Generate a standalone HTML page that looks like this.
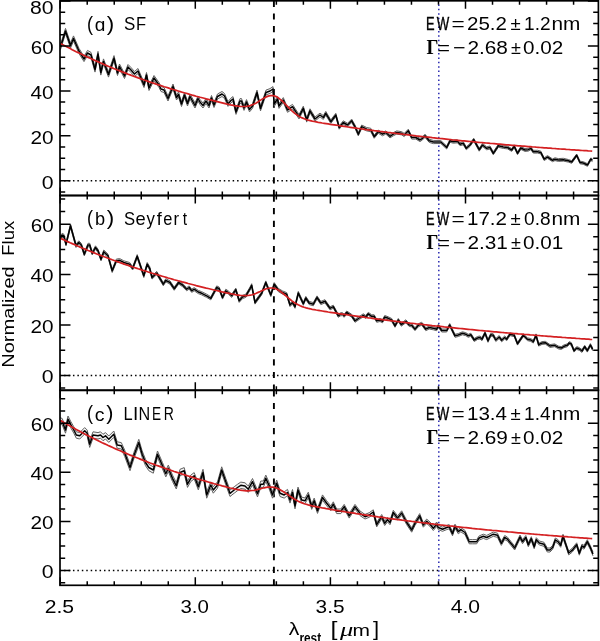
<!DOCTYPE html><html><head><meta charset="utf-8"><style>html,body{margin:0;padding:0;background:#fff;overflow:hidden}svg{display:block}text{font-family:"Liberation Sans",sans-serif;fill:#000}</style></head><body>
<svg width="600" height="641" viewBox="0 0 600 641">
<rect width="600" height="641" fill="#fff"/>
<clipPath id="c0"><rect x="60.0" y="0.8" width="538.4" height="194.7"/></clipPath>
<g clip-path="url(#c0)">
<line x1="60.0" y1="180.7" x2="598.4" y2="180.7" stroke="#000" stroke-width="1.5" stroke-dasharray="1.5 2.936" stroke-dashoffset="0.36"/>
<line x1="273.9" y1="0.8" x2="273.9" y2="195.5" stroke="#000" stroke-width="1.9" stroke-dasharray="6.2 6.4"/>
<line x1="438.8" y1="0.8" x2="438.8" y2="195.5" stroke="#2828b0" stroke-width="1.5" stroke-dasharray="1.5 2.91" stroke-dashoffset="0.75"/>
<path d="M60.5,44.4 L65.5,28.4 L70.5,42.9 L73.5,35.9 L79.0,48.4 L84.0,56.4 L87.5,50.4 L91.0,52.4 L95.0,66.9 L98.0,51.4 L100.8,69.9 L103.5,58.9 L108.5,71.9 L114.0,55.6 L117.5,70.5 L119.5,64.0 L124.5,73.5 L128.0,64.5 L131.0,67.5 L134.5,71.5 L138.0,68.5 L144.0,82.5 L146.5,72.5 L149.0,85.5 L154.0,75.5 L159.0,82.5 L161.0,86.5 L164.0,87.5 L168.0,96.0 L173.0,84.0 L176.5,95.0 L178.5,92.0 L181.5,101.5 L184.5,92.5 L187.5,101.0 L190.0,94.0 L195.0,103.0 L198.0,96.0 L200.0,99.5 L203.0,103.0 L206.0,98.5 L209.0,103.0 L211.5,95.5 L214.0,102.5 L217.5,94.0 L222.0,91.5 L224.5,93.5 L228.0,101.6 L231.0,98.1 L233.0,96.6 L236.0,109.6 L240.0,98.6 L241.5,98.6 L244.0,105.6 L246.5,99.6 L249.5,107.1 L252.5,103.6 L257.0,90.1 L260.5,106.1 L266.0,90.1 L270.0,88.6 L273.0,86.6 L274.2,101.6 L277.5,96.6 L279.0,103.6 L283.3,97.6 L287.5,107.7 L292.5,104.4 L299.0,114.5 L303.3,106.2 L306.7,117.9 L310.0,108.8 L315.0,117.0 L320.0,113.1 L323.3,115.6 L325.8,111.4 L330.8,119.9 L335.8,113.3 L339.2,125.8 L343.3,120.8 L347.5,123.3 L351.7,119.1 L355.0,125.0 L358.3,132.5 L361.7,125.0 L366.7,127.5 L370.8,128.3 L374.2,135.1 L378.3,130.1 L382.5,132.6 L385.8,130.9 L390.0,134.7 L393.3,132.6 L396.7,130.9 L401.7,131.7 L404.2,133.4 L408.3,129.2 L411.7,135.9 L415.8,135.9 L420.0,138.4 L422.5,136.7 L425.0,134.2 L429.2,139.2 L433.3,140.4 L440.8,140.5 L446.7,146.0 L450.0,139.3 L453.3,140.2 L457.5,139.8 L460.0,142.7 L463.3,141.8 L466.3,146.8 L470.0,143.5 L473.7,138.2 L479.2,148.2 L482.5,143.5 L486.7,146.8 L490.0,146.0 L493.3,151.8 L498.3,144.3 L503.3,145.6 L507.5,146.1 L511.7,148.6 L514.2,144.9 L517.5,151.9 L520.8,146.6 L525.0,148.6 L528.3,148.3 L530.8,146.9 L533.3,150.3 L537.5,150.3 L540.8,151.1 L544.2,157.8 L547.5,155.6 L552.5,158.9 L555.0,157.8 L558.3,158.6 L563.3,158.3 L568.3,159.5 L571.7,160.7 L576.7,154.0 L580.0,161.2 L583.3,161.7 L587.5,163.7 L590.8,157.9 L592.5,159.0 L592.5,161.6 L590.8,160.5 L587.5,166.3 L583.3,164.3 L580.0,163.8 L576.7,156.6 L571.7,163.3 L568.3,162.1 L563.3,161.1 L558.3,161.4 L555.0,160.6 L552.5,161.7 L547.5,158.4 L544.2,160.6 L540.8,153.9 L537.5,153.1 L533.3,153.1 L530.8,149.7 L528.3,151.1 L525.0,151.4 L520.8,149.4 L517.5,154.7 L514.2,147.7 L511.7,151.4 L507.5,148.9 L503.3,148.4 L498.3,147.3 L493.3,154.8 L490.0,149.0 L486.7,149.8 L482.5,146.5 L479.2,151.2 L473.7,141.2 L470.0,146.5 L466.3,149.8 L463.3,144.8 L460.0,145.7 L457.5,142.8 L453.3,143.2 L450.0,142.3 L446.7,149.0 L440.8,143.5 L433.3,143.6 L429.2,142.4 L425.0,137.4 L422.5,139.9 L420.0,141.6 L415.8,139.1 L411.7,139.1 L408.3,132.4 L404.2,136.6 L401.7,134.9 L396.7,134.1 L393.3,135.8 L390.0,137.9 L385.8,134.1 L382.5,135.8 L378.3,133.3 L374.2,138.3 L370.8,131.7 L366.7,130.9 L361.7,128.4 L358.3,135.9 L355.0,128.4 L351.7,122.5 L347.5,126.7 L343.3,124.2 L339.2,129.2 L335.8,116.7 L330.8,123.5 L325.8,115.2 L323.3,119.4 L320.0,116.9 L315.0,121.0 L310.0,112.8 L306.7,122.1 L303.3,110.4 L299.0,118.9 L292.5,109.0 L287.5,112.3 L283.3,102.4 L279.0,108.4 L277.5,101.4 L274.2,106.4 L273.0,91.4 L270.0,93.4 L266.0,94.9 L260.5,110.9 L257.0,94.9 L252.5,108.4 L249.5,111.9 L246.5,104.4 L244.0,110.4 L241.5,103.4 L240.0,103.4 L236.0,114.4 L233.0,101.4 L231.0,102.9 L228.0,106.4 L224.5,98.5 L222.0,96.5 L217.5,99.0 L214.0,107.5 L211.5,100.5 L209.0,108.0 L206.0,103.5 L203.0,108.0 L200.0,104.5 L198.0,101.0 L195.0,108.0 L190.0,99.0 L187.5,106.0 L184.5,97.5 L181.5,106.5 L178.5,97.0 L176.5,100.0 L173.0,89.0 L168.0,101.0 L164.0,92.5 L161.0,91.5 L159.0,87.5 L154.0,80.5 L149.0,90.5 L146.5,77.5 L144.0,87.5 L138.0,73.5 L134.5,76.5 L131.0,72.5 L128.0,69.5 L124.5,78.5 L119.5,69.0 L117.5,75.5 L114.0,60.8 L108.5,77.1 L103.5,64.1 L100.8,75.1 L98.0,56.6 L95.0,72.1 L91.0,57.6 L87.5,55.6 L84.0,61.6 L79.0,53.6 L73.5,41.1 L70.5,48.1 L65.5,33.6 L60.5,49.6Z" fill="#f2f2f2"/>
<path d="M60.5,44.4 L65.5,28.4 L70.5,42.9 L73.5,35.9 L79.0,48.4 L84.0,56.4 L87.5,50.4 L91.0,52.4 L95.0,66.9 L98.0,51.4 L100.8,69.9 L103.5,58.9 L108.5,71.9 L114.0,55.6 L117.5,70.5 L119.5,64.0 L124.5,73.5 L128.0,64.5 L131.0,67.5 L134.5,71.5 L138.0,68.5 L144.0,82.5 L146.5,72.5 L149.0,85.5 L154.0,75.5 L159.0,82.5 L161.0,86.5 L164.0,87.5 L168.0,96.0 L173.0,84.0 L176.5,95.0 L178.5,92.0 L181.5,101.5 L184.5,92.5 L187.5,101.0 L190.0,94.0 L195.0,103.0 L198.0,96.0 L200.0,99.5 L203.0,103.0 L206.0,98.5 L209.0,103.0 L211.5,95.5 L214.0,102.5 L217.5,94.0 L222.0,91.5 L224.5,93.5 L228.0,101.6 L231.0,98.1 L233.0,96.6 L236.0,109.6 L240.0,98.6 L241.5,98.6 L244.0,105.6 L246.5,99.6 L249.5,107.1 L252.5,103.6 L257.0,90.1 L260.5,106.1 L266.0,90.1 L270.0,88.6 L273.0,86.6 L274.2,101.6 L277.5,96.6 L279.0,103.6 L283.3,97.6 L287.5,107.7 L292.5,104.4 L299.0,114.5 L303.3,106.2 L306.7,117.9 L310.0,108.8 L315.0,117.0 L320.0,113.1 L323.3,115.6 L325.8,111.4 L330.8,119.9 L335.8,113.3 L339.2,125.8 L343.3,120.8 L347.5,123.3 L351.7,119.1 L355.0,125.0 L358.3,132.5 L361.7,125.0 L366.7,127.5 L370.8,128.3 L374.2,135.1 L378.3,130.1 L382.5,132.6 L385.8,130.9 L390.0,134.7 L393.3,132.6 L396.7,130.9 L401.7,131.7 L404.2,133.4 L408.3,129.2 L411.7,135.9 L415.8,135.9 L420.0,138.4 L422.5,136.7 L425.0,134.2 L429.2,139.2 L433.3,140.4 L440.8,140.5 L446.7,146.0 L450.0,139.3 L453.3,140.2 L457.5,139.8 L460.0,142.7 L463.3,141.8 L466.3,146.8 L470.0,143.5 L473.7,138.2 L479.2,148.2 L482.5,143.5 L486.7,146.8 L490.0,146.0 L493.3,151.8 L498.3,144.3 L503.3,145.6 L507.5,146.1 L511.7,148.6 L514.2,144.9 L517.5,151.9 L520.8,146.6 L525.0,148.6 L528.3,148.3 L530.8,146.9 L533.3,150.3 L537.5,150.3 L540.8,151.1 L544.2,157.8 L547.5,155.6 L552.5,158.9 L555.0,157.8 L558.3,158.6 L563.3,158.3 L568.3,159.5 L571.7,160.7 L576.7,154.0 L580.0,161.2 L583.3,161.7 L587.5,163.7 L590.8,157.9 L592.5,159.0" fill="none" stroke="#606060" stroke-width="1.0" stroke-linejoin="round"/>
<path d="M60.5,49.6 L65.5,33.6 L70.5,48.1 L73.5,41.1 L79.0,53.6 L84.0,61.6 L87.5,55.6 L91.0,57.6 L95.0,72.1 L98.0,56.6 L100.8,75.1 L103.5,64.1 L108.5,77.1 L114.0,60.8 L117.5,75.5 L119.5,69.0 L124.5,78.5 L128.0,69.5 L131.0,72.5 L134.5,76.5 L138.0,73.5 L144.0,87.5 L146.5,77.5 L149.0,90.5 L154.0,80.5 L159.0,87.5 L161.0,91.5 L164.0,92.5 L168.0,101.0 L173.0,89.0 L176.5,100.0 L178.5,97.0 L181.5,106.5 L184.5,97.5 L187.5,106.0 L190.0,99.0 L195.0,108.0 L198.0,101.0 L200.0,104.5 L203.0,108.0 L206.0,103.5 L209.0,108.0 L211.5,100.5 L214.0,107.5 L217.5,99.0 L222.0,96.5 L224.5,98.5 L228.0,106.4 L231.0,102.9 L233.0,101.4 L236.0,114.4 L240.0,103.4 L241.5,103.4 L244.0,110.4 L246.5,104.4 L249.5,111.9 L252.5,108.4 L257.0,94.9 L260.5,110.9 L266.0,94.9 L270.0,93.4 L273.0,91.4 L274.2,106.4 L277.5,101.4 L279.0,108.4 L283.3,102.4 L287.5,112.3 L292.5,109.0 L299.0,118.9 L303.3,110.4 L306.7,122.1 L310.0,112.8 L315.0,121.0 L320.0,116.9 L323.3,119.4 L325.8,115.2 L330.8,123.5 L335.8,116.7 L339.2,129.2 L343.3,124.2 L347.5,126.7 L351.7,122.5 L355.0,128.4 L358.3,135.9 L361.7,128.4 L366.7,130.9 L370.8,131.7 L374.2,138.3 L378.3,133.3 L382.5,135.8 L385.8,134.1 L390.0,137.9 L393.3,135.8 L396.7,134.1 L401.7,134.9 L404.2,136.6 L408.3,132.4 L411.7,139.1 L415.8,139.1 L420.0,141.6 L422.5,139.9 L425.0,137.4 L429.2,142.4 L433.3,143.6 L440.8,143.5 L446.7,149.0 L450.0,142.3 L453.3,143.2 L457.5,142.8 L460.0,145.7 L463.3,144.8 L466.3,149.8 L470.0,146.5 L473.7,141.2 L479.2,151.2 L482.5,146.5 L486.7,149.8 L490.0,149.0 L493.3,154.8 L498.3,147.3 L503.3,148.4 L507.5,148.9 L511.7,151.4 L514.2,147.7 L517.5,154.7 L520.8,149.4 L525.0,151.4 L528.3,151.1 L530.8,149.7 L533.3,153.1 L537.5,153.1 L540.8,153.9 L544.2,160.6 L547.5,158.4 L552.5,161.7 L555.0,160.6 L558.3,161.4 L563.3,161.1 L568.3,162.1 L571.7,163.3 L576.7,156.6 L580.0,163.8 L583.3,164.3 L587.5,166.3 L590.8,160.5 L592.5,161.6" fill="none" stroke="#606060" stroke-width="1.0" stroke-linejoin="round"/>
<path d="M60.5,47.0 L65.5,31.0 L70.5,45.5 L73.5,38.5 L79.0,51.0 L84.0,59.0 L87.5,53.0 L91.0,55.0 L95.0,69.5 L98.0,54.0 L100.8,72.5 L103.5,61.5 L108.5,74.5 L114.0,58.2 L117.5,73.0 L119.5,66.5 L124.5,76.0 L128.0,67.0 L131.0,70.0 L134.5,74.0 L138.0,71.0 L144.0,85.0 L146.5,75.0 L149.0,88.0 L154.0,78.0 L159.0,85.0 L161.0,89.0 L164.0,90.0 L168.0,98.5 L173.0,86.5 L176.5,97.5 L178.5,94.5 L181.5,104.0 L184.5,95.0 L187.5,103.5 L190.0,96.5 L195.0,105.5 L198.0,98.5 L200.0,102.0 L203.0,105.5 L206.0,101.0 L209.0,105.5 L211.5,98.0 L214.0,105.0 L217.5,96.5 L222.0,94.0 L224.5,96.0 L228.0,104.0 L231.0,100.5 L233.0,99.0 L236.0,112.0 L240.0,101.0 L241.5,101.0 L244.0,108.0 L246.5,102.0 L249.5,109.5 L252.5,106.0 L257.0,92.5 L260.5,108.5 L266.0,92.5 L270.0,91.0 L273.0,89.0 L274.2,104.0 L277.5,99.0 L279.0,106.0 L283.3,100.0 L287.5,110.0 L292.5,106.7 L299.0,116.7 L303.3,108.3 L306.7,120.0 L310.0,110.8 L315.0,119.0 L320.0,115.0 L323.3,117.5 L325.8,113.3 L330.8,121.7 L335.8,115.0 L339.2,127.5 L343.3,122.5 L347.5,125.0 L351.7,120.8 L355.0,126.7 L358.3,134.2 L361.7,126.7 L366.7,129.2 L370.8,130.0 L374.2,136.7 L378.3,131.7 L382.5,134.2 L385.8,132.5 L390.0,136.3 L393.3,134.2 L396.7,132.5 L401.7,133.3 L404.2,135.0 L408.3,130.8 L411.7,137.5 L415.8,137.5 L420.0,140.0 L422.5,138.3 L425.0,135.8 L429.2,140.8 L433.3,142.0 L440.8,142.0 L446.7,147.5 L450.0,140.8 L453.3,141.7 L457.5,141.3 L460.0,144.2 L463.3,143.3 L466.3,148.3 L470.0,145.0 L473.7,139.7 L479.2,149.7 L482.5,145.0 L486.7,148.3 L490.0,147.5 L493.3,153.3 L498.3,145.8 L503.3,147.0 L507.5,147.5 L511.7,150.0 L514.2,146.3 L517.5,153.3 L520.8,148.0 L525.0,150.0 L528.3,149.7 L530.8,148.3 L533.3,151.7 L537.5,151.7 L540.8,152.5 L544.2,159.2 L547.5,157.0 L552.5,160.3 L555.0,159.2 L558.3,160.0 L563.3,159.7 L568.3,160.8 L571.7,162.0 L576.7,155.3 L580.0,162.5 L583.3,163.0 L587.5,165.0 L590.8,159.2 L592.5,160.3" fill="none" stroke="#000" stroke-width="1.5" stroke-linejoin="round"/>
<path d="M60.2,43.4 L62.2,44.5 L64.2,45.5 L66.2,46.6 L68.2,47.6 L70.2,48.6 L72.2,49.7 L74.2,50.7 L76.2,51.7 L78.2,52.6 L80.2,53.6 L82.2,54.6 L84.2,55.5 L86.2,56.5 L88.2,57.4 L90.2,58.3 L92.2,59.2 L94.2,60.1 L96.2,61.0 L98.2,61.9 L100.2,62.8 L102.2,63.6 L104.2,64.5 L106.2,65.4 L108.2,66.2 L110.2,67.0 L112.2,67.9 L114.2,68.7 L116.2,69.5 L118.2,70.3 L120.2,71.1 L122.2,71.9 L124.2,72.6 L126.2,73.4 L128.2,74.2 L130.2,74.9 L132.2,75.7 L134.2,76.4 L136.2,77.1 L138.2,77.9 L140.2,78.6 L142.2,79.3 L144.2,80.0 L146.2,80.7 L148.2,81.4 L150.2,82.1 L152.2,82.7 L154.2,83.4 L156.2,84.1 L158.2,84.7 L160.2,85.4 L162.2,86.0 L164.2,86.7 L166.2,87.3 L168.2,87.9 L170.2,88.6 L172.2,89.2 L174.2,89.8 L176.2,90.4 L178.2,91.0 L180.2,91.6 L182.2,92.2 L184.2,92.8 L186.2,93.3 L188.2,93.9 L190.2,94.5 L192.2,95.1 L194.2,95.6 L196.2,96.2 L198.2,96.7 L200.2,97.3 L202.2,97.8 L204.2,98.3 L206.2,98.9 L208.2,99.4 L210.2,99.9 L212.2,100.4 L214.2,100.9 L216.2,101.4 L218.2,101.9 L220.2,102.4 L222.2,102.9 L224.2,103.4 L226.2,103.9 L228.2,104.3 L230.2,104.8 L232.2,105.2 L234.2,105.6 L236.2,105.9 L238.2,106.2 L240.2,106.4 L242.2,106.5 L244.2,106.5 L246.2,106.4 L248.2,106.1 L250.2,105.6 L252.2,104.8 L254.2,104.0 L256.2,102.9 L258.2,101.7 L260.2,100.4 L262.2,99.1 L264.2,97.9 L266.2,96.9 L268.2,96.1 L270.2,95.6 L272.2,95.5 L274.2,95.9 L276.2,96.6 L278.2,97.8 L280.2,99.3 L282.2,101.0 L284.2,103.0 L286.2,105.1 L288.2,107.1 L290.2,109.2 L292.2,111.1 L294.2,112.8 L296.2,114.4 L298.2,115.7 L300.2,116.9 L302.2,117.9 L304.2,118.7 L306.2,119.5 L308.2,120.1 L310.2,120.6 L312.2,121.1 L314.2,121.5 L316.2,121.9 L318.2,122.3 L320.2,122.6 L322.2,123.0 L324.2,123.3 L326.2,123.6 L328.2,123.9 L330.2,124.3 L332.2,124.6 L334.2,124.9 L336.2,125.2 L338.2,125.5 L340.2,125.8 L342.2,126.1 L344.2,126.4 L346.2,126.7 L348.2,127.0 L350.2,127.3 L352.2,127.6 L354.2,127.9 L356.2,128.2 L358.2,128.5 L360.2,128.7 L362.2,129.0 L364.2,129.3 L366.2,129.6 L368.2,129.8 L370.2,130.1 L372.2,130.4 L374.2,130.7 L376.2,130.9 L378.2,131.2 L380.2,131.5 L382.2,131.7 L384.2,132.0 L386.2,132.2 L388.2,132.5 L390.2,132.7 L392.2,133.0 L394.2,133.2 L396.2,133.5 L398.2,133.7 L400.2,134.0 L402.2,134.2 L404.2,134.5 L406.2,134.7 L408.2,134.9 L410.2,135.2 L412.2,135.4 L414.2,135.6 L416.2,135.9 L418.2,136.1 L420.2,136.3 L422.2,136.5 L424.2,136.8 L426.2,137.0 L428.2,137.2 L430.2,137.4 L432.2,137.7 L434.2,137.9 L436.2,138.1 L438.2,138.3 L440.2,138.5 L442.2,138.7 L444.2,138.9 L446.2,139.1 L448.2,139.3 L450.2,139.5 L452.2,139.8 L454.2,140.0 L456.2,140.2 L458.2,140.4 L460.2,140.6 L462.2,140.8 L464.2,140.9 L466.2,141.1 L468.2,141.3 L470.2,141.5 L472.2,141.7 L474.2,141.9 L476.2,142.1 L478.2,142.3 L480.2,142.5 L482.2,142.6 L484.2,142.8 L486.2,143.0 L488.2,143.2 L490.2,143.4 L492.2,143.5 L494.2,143.7 L496.2,143.9 L498.2,144.1 L500.2,144.2 L502.2,144.4 L504.2,144.6 L506.2,144.8 L508.2,144.9 L510.2,145.1 L512.2,145.3 L514.2,145.4 L516.2,145.6 L518.2,145.8 L520.2,145.9 L522.2,146.1 L524.2,146.2 L526.2,146.4 L528.2,146.6 L530.2,146.7 L532.2,146.9 L534.2,147.0 L536.2,147.2 L538.2,147.3 L540.2,147.5 L542.2,147.6 L544.2,147.8 L546.2,147.9 L548.2,148.1 L550.2,148.2 L552.2,148.4 L554.2,148.5 L556.2,148.7 L558.2,148.8 L560.2,149.0 L562.2,149.1 L564.2,149.2 L566.2,149.4 L568.2,149.5 L570.2,149.7 L572.2,149.8 L574.2,149.9 L576.2,150.1 L578.2,150.2 L580.2,150.3 L582.2,150.5 L584.2,150.6 L586.2,150.7 L588.2,150.9 L590.2,151.0 L592.2,151.1" fill="none" stroke="#d42022" stroke-width="1.7"/>
</g>
<rect x="60.0" y="0.8" width="538.4" height="194.7" fill="none" stroke="#000" stroke-width="1.7"/>
<path d="M60.0,191.92h5.2M598.4,191.92h-5.2M60.0,180.70h10.5M598.4,180.70h-10.5M60.0,169.47h5.2M598.4,169.47h-5.2M60.0,158.25h5.2M598.4,158.25h-5.2M60.0,147.02h5.2M598.4,147.02h-5.2M60.0,135.80h10.5M598.4,135.80h-10.5M60.0,124.57h5.2M598.4,124.57h-5.2M60.0,113.35h5.2M598.4,113.35h-5.2M60.0,102.12h5.2M598.4,102.12h-5.2M60.0,90.90h10.5M598.4,90.90h-10.5M60.0,79.67h5.2M598.4,79.67h-5.2M60.0,68.45h5.2M598.4,68.45h-5.2M60.0,57.22h5.2M598.4,57.22h-5.2M60.0,46.00h10.5M598.4,46.00h-10.5M60.0,34.77h5.2M598.4,34.77h-5.2M60.0,23.55h5.2M598.4,23.55h-5.2M60.0,12.32h5.2M598.4,12.32h-5.2M60.0,1.10h10.5M598.4,1.10h-10.5M60.20,195.5v-8M60.20,0.8v8M87.22,195.5v-4M87.22,0.8v4M114.24,195.5v-4M114.24,0.8v4M141.26,195.5v-4M141.26,0.8v4M168.28,195.5v-4M168.28,0.8v4M195.30,195.5v-8M195.30,0.8v8M222.32,195.5v-4M222.32,0.8v4M249.34,195.5v-4M249.34,0.8v4M276.36,195.5v-4M276.36,0.8v4M303.38,195.5v-4M303.38,0.8v4M330.40,195.5v-8M330.40,0.8v8M357.42,195.5v-4M357.42,0.8v4M384.44,195.5v-4M384.44,0.8v4M411.46,195.5v-4M411.46,0.8v4M438.48,195.5v-4M438.48,0.8v4M465.50,195.5v-8M465.50,0.8v8M492.52,195.5v-4M492.52,0.8v4M519.54,195.5v-4M519.54,0.8v4M546.56,195.5v-4M546.56,0.8v4M573.58,195.5v-4M573.58,0.8v4" stroke="#000" stroke-width="1.5" fill="none"/>
<clipPath id="c1"><rect x="60.0" y="195.5" width="538.4" height="194.8"/></clipPath>
<g clip-path="url(#c1)">
<line x1="60.0" y1="375.4" x2="598.4" y2="375.4" stroke="#000" stroke-width="1.5" stroke-dasharray="1.5 2.936" stroke-dashoffset="0.36"/>
<line x1="273.9" y1="195.5" x2="273.9" y2="390.3" stroke="#000" stroke-width="1.9" stroke-dasharray="6.2 6.4"/>
<line x1="438.8" y1="195.5" x2="438.8" y2="390.3" stroke="#2828b0" stroke-width="1.5" stroke-dasharray="1.5 2.91" stroke-dashoffset="0.75"/>
<path d="M60.0,235.8 L62.2,233.3 L63.8,234.1 L66.0,242.5 L70.5,224.1 L76.0,244.1 L78.8,240.8 L81.3,243.3 L84.3,252.5 L88.0,243.3 L89.7,243.3 L92.2,251.6 L95.5,245.8 L98.0,249.1 L101.0,257.5 L103.8,250.0 L108.0,254.1 L112.2,269.1 L116.3,259.1 L119.7,258.6 L123.8,260.8 L129.7,262.5 L132.7,266.6 L137.2,254.6 L143.8,274.1 L147.2,262.5 L149.7,266.6 L152.0,275.9 L156.7,271.4 L163.3,282.6 L165.8,278.7 L170.0,280.9 L174.2,287.1 L178.7,280.9 L182.5,283.4 L186.7,287.6 L189.2,285.9 L191.7,289.2 L194.2,287.6 L198.3,290.4 L201.7,291.7 L206.7,294.2 L210.8,296.7 L216.7,285.9 L219.2,287.1 L222.5,295.9 L225.8,289.2 L228.3,290.9 L231.7,294.2 L235.8,288.1 L239.2,299.2 L242.5,295.4 L245.8,294.2 L250.0,287.1 L251.7,283.7 L255.0,300.9 L261.7,291.7 L265.8,280.9 L270.8,293.4 L274.2,282.6 L278.3,288.4 L282.5,290.9 L286.7,292.6 L290.0,303.4 L292.5,300.9 L295.0,305.1 L298.3,291.4 L303.3,302.1 L305.8,296.4 L309.2,301.4 L313.3,302.6 L317.0,295.9 L320.8,301.4 L325.0,299.7 L330.0,306.8 L333.3,305.2 L338.3,314.3 L340.8,312.7 L342.5,312.7 L344.2,314.3 L346.7,311.0 L351.7,314.3 L355.0,319.3 L359.2,316.5 L363.3,313.8 L365.8,315.5 L368.3,312.3 L371.7,314.8 L374.2,314.8 L376.7,319.3 L380.0,318.5 L382.5,319.8 L384.7,315.5 L388.3,316.8 L391.7,318.5 L395.0,324.3 L398.3,318.5 L401.3,323.2 L405.8,319.8 L409.2,323.5 L411.7,323.8 L415.0,327.7 L418.3,323.8 L421.7,322.2 L425.8,327.7 L429.2,326.0 L433.3,326.8 L436.7,327.7 L438.3,324.3 L441.7,329.0 L446.7,329.0 L449.7,323.5 L455.0,334.3 L458.3,333.5 L462.5,331.8 L465.8,332.7 L468.3,334.3 L470.8,333.2 L474.2,338.5 L477.5,336.5 L480.0,336.0 L482.0,337.7 L485.0,331.5 L488.0,339.3 L490.8,333.2 L493.3,333.8 L495.8,338.5 L499.2,335.5 L501.7,338.8 L504.7,336.0 L506.7,337.7 L510.0,332.8 L514.2,333.9 L517.5,342.3 L523.3,333.9 L527.5,337.8 L530.8,338.6 L533.3,340.3 L536.0,333.9 L538.7,343.3 L542.0,341.6 L545.3,341.3 L550.0,344.6 L554.7,343.9 L558.7,346.2 L561.3,346.6 L564.0,344.9 L567.3,343.9 L569.3,341.6 L571.3,342.6 L574.0,349.3 L576.7,346.6 L579.3,347.6 L582.0,349.6 L584.7,345.3 L587.3,349.3 L590.4,343.6 L592.7,347.9 L592.7,350.7 L590.4,346.4 L587.3,352.1 L584.7,348.1 L582.0,352.4 L579.3,350.4 L576.7,349.4 L574.0,352.1 L571.3,345.4 L569.3,344.4 L567.3,346.7 L564.0,347.7 L561.3,349.4 L558.7,349.0 L554.7,346.7 L550.0,347.4 L545.3,344.1 L542.0,344.4 L538.7,346.1 L536.0,336.7 L533.3,343.1 L530.8,341.4 L527.5,340.6 L523.3,336.7 L517.5,345.1 L514.2,336.7 L510.0,335.6 L506.7,340.7 L504.7,339.0 L501.7,341.8 L499.2,338.5 L495.8,341.5 L493.3,336.8 L490.8,336.2 L488.0,342.3 L485.0,334.5 L482.0,340.7 L480.0,339.0 L477.5,339.5 L474.2,341.5 L470.8,336.2 L468.3,337.3 L465.8,335.7 L462.5,334.8 L458.3,336.5 L455.0,337.3 L449.7,326.5 L446.7,332.0 L441.7,332.0 L438.3,327.3 L436.7,330.7 L433.3,329.8 L429.2,329.0 L425.8,330.7 L421.7,325.2 L418.3,326.8 L415.0,330.7 L411.7,326.8 L409.2,326.5 L405.8,322.8 L401.3,326.2 L398.3,321.5 L395.0,327.3 L391.7,321.5 L388.3,319.8 L384.7,318.5 L382.5,322.8 L380.0,321.5 L376.7,322.3 L374.2,317.8 L371.7,317.8 L368.3,315.3 L365.8,318.5 L363.3,316.8 L359.2,319.5 L355.0,322.3 L351.7,317.3 L346.7,314.0 L344.2,317.3 L342.5,315.7 L340.8,315.7 L338.3,317.3 L333.3,308.2 L330.0,309.9 L325.0,302.9 L320.8,304.6 L317.0,299.1 L313.3,305.8 L309.2,304.6 L305.8,299.6 L303.3,305.3 L298.3,294.6 L295.0,308.3 L292.5,304.1 L290.0,306.6 L286.7,295.8 L282.5,294.1 L278.3,291.6 L274.2,285.8 L270.8,296.6 L265.8,284.1 L261.7,294.9 L255.0,304.1 L251.7,286.9 L250.0,290.3 L245.8,297.4 L242.5,298.6 L239.2,302.4 L235.8,291.3 L231.7,297.4 L228.3,294.1 L225.8,292.4 L222.5,299.1 L219.2,290.3 L216.7,289.1 L210.8,299.9 L206.7,297.4 L201.7,294.9 L198.3,293.6 L194.2,290.8 L191.7,292.4 L189.2,289.1 L186.7,290.8 L182.5,286.6 L178.7,284.1 L174.2,290.3 L170.0,284.1 L165.8,281.9 L163.3,285.8 L156.7,274.6 L152.0,279.1 L149.7,270.0 L147.2,265.9 L143.8,277.5 L137.2,258.0 L132.7,270.0 L129.7,265.9 L123.8,264.2 L119.7,262.0 L116.3,262.5 L112.2,272.5 L108.0,257.5 L103.8,253.4 L101.0,260.9 L98.0,252.5 L95.5,249.2 L92.2,255.0 L89.7,246.7 L88.0,246.7 L84.3,255.9 L81.3,246.7 L78.8,244.2 L76.0,247.5 L70.5,227.5 L66.0,245.9 L63.8,237.5 L62.2,236.7 L60.0,239.2Z" fill="#f2f2f2"/>
<path d="M60.0,235.8 L62.2,233.3 L63.8,234.1 L66.0,242.5 L70.5,224.1 L76.0,244.1 L78.8,240.8 L81.3,243.3 L84.3,252.5 L88.0,243.3 L89.7,243.3 L92.2,251.6 L95.5,245.8 L98.0,249.1 L101.0,257.5 L103.8,250.0 L108.0,254.1 L112.2,269.1 L116.3,259.1 L119.7,258.6 L123.8,260.8 L129.7,262.5 L132.7,266.6 L137.2,254.6 L143.8,274.1 L147.2,262.5 L149.7,266.6 L152.0,275.9 L156.7,271.4 L163.3,282.6 L165.8,278.7 L170.0,280.9 L174.2,287.1 L178.7,280.9 L182.5,283.4 L186.7,287.6 L189.2,285.9 L191.7,289.2 L194.2,287.6 L198.3,290.4 L201.7,291.7 L206.7,294.2 L210.8,296.7 L216.7,285.9 L219.2,287.1 L222.5,295.9 L225.8,289.2 L228.3,290.9 L231.7,294.2 L235.8,288.1 L239.2,299.2 L242.5,295.4 L245.8,294.2 L250.0,287.1 L251.7,283.7 L255.0,300.9 L261.7,291.7 L265.8,280.9 L270.8,293.4 L274.2,282.6 L278.3,288.4 L282.5,290.9 L286.7,292.6 L290.0,303.4 L292.5,300.9 L295.0,305.1 L298.3,291.4 L303.3,302.1 L305.8,296.4 L309.2,301.4 L313.3,302.6 L317.0,295.9 L320.8,301.4 L325.0,299.7 L330.0,306.8 L333.3,305.2 L338.3,314.3 L340.8,312.7 L342.5,312.7 L344.2,314.3 L346.7,311.0 L351.7,314.3 L355.0,319.3 L359.2,316.5 L363.3,313.8 L365.8,315.5 L368.3,312.3 L371.7,314.8 L374.2,314.8 L376.7,319.3 L380.0,318.5 L382.5,319.8 L384.7,315.5 L388.3,316.8 L391.7,318.5 L395.0,324.3 L398.3,318.5 L401.3,323.2 L405.8,319.8 L409.2,323.5 L411.7,323.8 L415.0,327.7 L418.3,323.8 L421.7,322.2 L425.8,327.7 L429.2,326.0 L433.3,326.8 L436.7,327.7 L438.3,324.3 L441.7,329.0 L446.7,329.0 L449.7,323.5 L455.0,334.3 L458.3,333.5 L462.5,331.8 L465.8,332.7 L468.3,334.3 L470.8,333.2 L474.2,338.5 L477.5,336.5 L480.0,336.0 L482.0,337.7 L485.0,331.5 L488.0,339.3 L490.8,333.2 L493.3,333.8 L495.8,338.5 L499.2,335.5 L501.7,338.8 L504.7,336.0 L506.7,337.7 L510.0,332.8 L514.2,333.9 L517.5,342.3 L523.3,333.9 L527.5,337.8 L530.8,338.6 L533.3,340.3 L536.0,333.9 L538.7,343.3 L542.0,341.6 L545.3,341.3 L550.0,344.6 L554.7,343.9 L558.7,346.2 L561.3,346.6 L564.0,344.9 L567.3,343.9 L569.3,341.6 L571.3,342.6 L574.0,349.3 L576.7,346.6 L579.3,347.6 L582.0,349.6 L584.7,345.3 L587.3,349.3 L590.4,343.6 L592.7,347.9" fill="none" stroke="#606060" stroke-width="1.0" stroke-linejoin="round"/>
<path d="M60.0,239.2 L62.2,236.7 L63.8,237.5 L66.0,245.9 L70.5,227.5 L76.0,247.5 L78.8,244.2 L81.3,246.7 L84.3,255.9 L88.0,246.7 L89.7,246.7 L92.2,255.0 L95.5,249.2 L98.0,252.5 L101.0,260.9 L103.8,253.4 L108.0,257.5 L112.2,272.5 L116.3,262.5 L119.7,262.0 L123.8,264.2 L129.7,265.9 L132.7,270.0 L137.2,258.0 L143.8,277.5 L147.2,265.9 L149.7,270.0 L152.0,279.1 L156.7,274.6 L163.3,285.8 L165.8,281.9 L170.0,284.1 L174.2,290.3 L178.7,284.1 L182.5,286.6 L186.7,290.8 L189.2,289.1 L191.7,292.4 L194.2,290.8 L198.3,293.6 L201.7,294.9 L206.7,297.4 L210.8,299.9 L216.7,289.1 L219.2,290.3 L222.5,299.1 L225.8,292.4 L228.3,294.1 L231.7,297.4 L235.8,291.3 L239.2,302.4 L242.5,298.6 L245.8,297.4 L250.0,290.3 L251.7,286.9 L255.0,304.1 L261.7,294.9 L265.8,284.1 L270.8,296.6 L274.2,285.8 L278.3,291.6 L282.5,294.1 L286.7,295.8 L290.0,306.6 L292.5,304.1 L295.0,308.3 L298.3,294.6 L303.3,305.3 L305.8,299.6 L309.2,304.6 L313.3,305.8 L317.0,299.1 L320.8,304.6 L325.0,302.9 L330.0,309.9 L333.3,308.2 L338.3,317.3 L340.8,315.7 L342.5,315.7 L344.2,317.3 L346.7,314.0 L351.7,317.3 L355.0,322.3 L359.2,319.5 L363.3,316.8 L365.8,318.5 L368.3,315.3 L371.7,317.8 L374.2,317.8 L376.7,322.3 L380.0,321.5 L382.5,322.8 L384.7,318.5 L388.3,319.8 L391.7,321.5 L395.0,327.3 L398.3,321.5 L401.3,326.2 L405.8,322.8 L409.2,326.5 L411.7,326.8 L415.0,330.7 L418.3,326.8 L421.7,325.2 L425.8,330.7 L429.2,329.0 L433.3,329.8 L436.7,330.7 L438.3,327.3 L441.7,332.0 L446.7,332.0 L449.7,326.5 L455.0,337.3 L458.3,336.5 L462.5,334.8 L465.8,335.7 L468.3,337.3 L470.8,336.2 L474.2,341.5 L477.5,339.5 L480.0,339.0 L482.0,340.7 L485.0,334.5 L488.0,342.3 L490.8,336.2 L493.3,336.8 L495.8,341.5 L499.2,338.5 L501.7,341.8 L504.7,339.0 L506.7,340.7 L510.0,335.6 L514.2,336.7 L517.5,345.1 L523.3,336.7 L527.5,340.6 L530.8,341.4 L533.3,343.1 L536.0,336.7 L538.7,346.1 L542.0,344.4 L545.3,344.1 L550.0,347.4 L554.7,346.7 L558.7,349.0 L561.3,349.4 L564.0,347.7 L567.3,346.7 L569.3,344.4 L571.3,345.4 L574.0,352.1 L576.7,349.4 L579.3,350.4 L582.0,352.4 L584.7,348.1 L587.3,352.1 L590.4,346.4 L592.7,350.7" fill="none" stroke="#606060" stroke-width="1.0" stroke-linejoin="round"/>
<path d="M60.0,237.5 L62.2,235.0 L63.8,235.8 L66.0,244.2 L70.5,225.8 L76.0,245.8 L78.8,242.5 L81.3,245.0 L84.3,254.2 L88.0,245.0 L89.7,245.0 L92.2,253.3 L95.5,247.5 L98.0,250.8 L101.0,259.2 L103.8,251.7 L108.0,255.8 L112.2,270.8 L116.3,260.8 L119.7,260.3 L123.8,262.5 L129.7,264.2 L132.7,268.3 L137.2,256.3 L143.8,275.8 L147.2,264.2 L149.7,268.3 L152.0,277.5 L156.7,273.0 L163.3,284.2 L165.8,280.3 L170.0,282.5 L174.2,288.7 L178.7,282.5 L182.5,285.0 L186.7,289.2 L189.2,287.5 L191.7,290.8 L194.2,289.2 L198.3,292.0 L201.7,293.3 L206.7,295.8 L210.8,298.3 L216.7,287.5 L219.2,288.7 L222.5,297.5 L225.8,290.8 L228.3,292.5 L231.7,295.8 L235.8,289.7 L239.2,300.8 L242.5,297.0 L245.8,295.8 L250.0,288.7 L251.7,285.3 L255.0,302.5 L261.7,293.3 L265.8,282.5 L270.8,295.0 L274.2,284.2 L278.3,290.0 L282.5,292.5 L286.7,294.2 L290.0,305.0 L292.5,302.5 L295.0,306.7 L298.3,293.0 L303.3,303.7 L305.8,298.0 L309.2,303.0 L313.3,304.2 L317.0,297.5 L320.8,303.0 L325.0,301.3 L330.0,308.3 L333.3,306.7 L338.3,315.8 L340.8,314.2 L342.5,314.2 L344.2,315.8 L346.7,312.5 L351.7,315.8 L355.0,320.8 L359.2,318.0 L363.3,315.3 L365.8,317.0 L368.3,313.8 L371.7,316.3 L374.2,316.3 L376.7,320.8 L380.0,320.0 L382.5,321.3 L384.7,317.0 L388.3,318.3 L391.7,320.0 L395.0,325.8 L398.3,320.0 L401.3,324.7 L405.8,321.3 L409.2,325.0 L411.7,325.3 L415.0,329.2 L418.3,325.3 L421.7,323.7 L425.8,329.2 L429.2,327.5 L433.3,328.3 L436.7,329.2 L438.3,325.8 L441.7,330.5 L446.7,330.5 L449.7,325.0 L455.0,335.8 L458.3,335.0 L462.5,333.3 L465.8,334.2 L468.3,335.8 L470.8,334.7 L474.2,340.0 L477.5,338.0 L480.0,337.5 L482.0,339.2 L485.0,333.0 L488.0,340.8 L490.8,334.7 L493.3,335.3 L495.8,340.0 L499.2,337.0 L501.7,340.3 L504.7,337.5 L506.7,339.2 L510.0,334.2 L514.2,335.3 L517.5,343.7 L523.3,335.3 L527.5,339.2 L530.8,340.0 L533.3,341.7 L536.0,335.3 L538.7,344.7 L542.0,343.0 L545.3,342.7 L550.0,346.0 L554.7,345.3 L558.7,347.6 L561.3,348.0 L564.0,346.3 L567.3,345.3 L569.3,343.0 L571.3,344.0 L574.0,350.7 L576.7,348.0 L579.3,349.0 L582.0,351.0 L584.7,346.7 L587.3,350.7 L590.4,345.0 L592.7,349.3" fill="none" stroke="#000" stroke-width="1.5" stroke-linejoin="round"/>
<path d="M60.2,238.2 L62.2,239.1 L64.2,240.0 L66.2,241.0 L68.2,241.9 L70.2,242.8 L72.2,243.6 L74.2,244.5 L76.2,245.4 L78.2,246.3 L80.2,247.1 L82.2,248.0 L84.2,248.8 L86.2,249.6 L88.2,250.5 L90.2,251.3 L92.2,252.1 L94.2,252.9 L96.2,253.7 L98.2,254.5 L100.2,255.2 L102.2,256.0 L104.2,256.8 L106.2,257.5 L108.2,258.3 L110.2,259.0 L112.2,259.8 L114.2,260.5 L116.2,261.2 L118.2,261.9 L120.2,262.7 L122.2,263.4 L124.2,264.1 L126.2,264.8 L128.2,265.4 L130.2,266.1 L132.2,266.8 L134.2,267.5 L136.2,268.1 L138.2,268.8 L140.2,269.4 L142.2,270.1 L144.2,270.7 L146.2,271.3 L148.2,272.0 L150.2,272.6 L152.2,273.2 L154.2,273.8 L156.2,274.4 L158.2,275.0 L160.2,275.6 L162.2,276.2 L164.2,276.8 L166.2,277.4 L168.2,278.0 L170.2,278.5 L172.2,279.1 L174.2,279.7 L176.2,280.2 L178.2,280.8 L180.2,281.3 L182.2,281.9 L184.2,282.4 L186.2,282.9 L188.2,283.5 L190.2,284.0 L192.2,284.5 L194.2,285.0 L196.2,285.6 L198.2,286.1 L200.2,286.6 L202.2,287.1 L204.2,287.6 L206.2,288.1 L208.2,288.5 L210.2,289.0 L212.2,289.5 L214.2,290.0 L216.2,290.5 L218.2,290.9 L220.2,291.4 L222.2,291.9 L224.2,292.3 L226.2,292.8 L228.2,293.2 L230.2,293.6 L232.2,294.0 L234.2,294.4 L236.2,294.8 L238.2,295.1 L240.2,295.4 L242.2,295.5 L244.2,295.6 L246.2,295.6 L248.2,295.5 L250.2,295.2 L252.2,294.7 L254.2,294.1 L256.2,293.3 L258.2,292.4 L260.2,291.5 L262.2,290.5 L264.2,289.6 L266.2,288.8 L268.2,288.3 L270.2,288.0 L272.2,288.0 L274.2,288.3 L276.2,289.0 L278.2,290.0 L280.2,291.3 L282.2,292.8 L284.2,294.5 L286.2,296.2 L288.2,297.9 L290.2,299.5 L292.2,301.1 L294.2,302.5 L296.2,303.7 L298.2,304.8 L300.2,305.8 L302.2,306.6 L304.2,307.3 L306.2,307.9 L308.2,308.4 L310.2,308.8 L312.2,309.3 L314.2,309.6 L316.2,310.0 L318.2,310.3 L320.2,310.7 L322.2,311.0 L324.2,311.3 L326.2,311.6 L328.2,312.0 L330.2,312.3 L332.2,312.6 L334.2,312.9 L336.2,313.2 L338.2,313.5 L340.2,313.8 L342.2,314.1 L344.2,314.4 L346.2,314.7 L348.2,315.0 L350.2,315.2 L352.2,315.5 L354.2,315.8 L356.2,316.1 L358.2,316.4 L360.2,316.7 L362.2,316.9 L364.2,317.2 L366.2,317.5 L368.2,317.8 L370.2,318.0 L372.2,318.3 L374.2,318.6 L376.2,318.8 L378.2,319.1 L380.2,319.3 L382.2,319.6 L384.2,319.9 L386.2,320.1 L388.2,320.4 L390.2,320.6 L392.2,320.9 L394.2,321.1 L396.2,321.4 L398.2,321.6 L400.2,321.9 L402.2,322.1 L404.2,322.3 L406.2,322.6 L408.2,322.8 L410.2,323.1 L412.2,323.3 L414.2,323.5 L416.2,323.8 L418.2,324.0 L420.2,324.2 L422.2,324.4 L424.2,324.7 L426.2,324.9 L428.2,325.1 L430.2,325.3 L432.2,325.6 L434.2,325.8 L436.2,326.0 L438.2,326.2 L440.2,326.4 L442.2,326.6 L444.2,326.9 L446.2,327.1 L448.2,327.3 L450.2,327.5 L452.2,327.7 L454.2,327.9 L456.2,328.1 L458.2,328.3 L460.2,328.5 L462.2,328.7 L464.2,328.9 L466.2,329.1 L468.2,329.3 L470.2,329.5 L472.2,329.7 L474.2,329.9 L476.2,330.1 L478.2,330.3 L480.2,330.5 L482.2,330.6 L484.2,330.8 L486.2,331.0 L488.2,331.2 L490.2,331.4 L492.2,331.6 L494.2,331.8 L496.2,331.9 L498.2,332.1 L500.2,332.3 L502.2,332.5 L504.2,332.7 L506.2,332.8 L508.2,333.0 L510.2,333.2 L512.2,333.3 L514.2,333.5 L516.2,333.7 L518.2,333.9 L520.2,334.0 L522.2,334.2 L524.2,334.4 L526.2,334.5 L528.2,334.7 L530.2,334.9 L532.2,335.0 L534.2,335.2 L536.2,335.3 L538.2,335.5 L540.2,335.7 L542.2,335.8 L544.2,336.0 L546.2,336.1 L548.2,336.3 L550.2,336.4 L552.2,336.6 L554.2,336.8 L556.2,336.9 L558.2,337.1 L560.2,337.2 L562.2,337.4 L564.2,337.5 L566.2,337.7 L568.2,337.8 L570.2,337.9 L572.2,338.1 L574.2,338.2 L576.2,338.4 L578.2,338.5 L580.2,338.7 L582.2,338.8 L584.2,338.9 L586.2,339.1 L588.2,339.2 L590.2,339.4 L592.2,339.5" fill="none" stroke="#d42022" stroke-width="1.7"/>
</g>
<rect x="60.0" y="195.5" width="538.4" height="194.8" fill="none" stroke="#000" stroke-width="1.7"/>
<path d="M60.0,388.00h5.2M598.4,388.00h-5.2M60.0,375.40h10.5M598.4,375.40h-10.5M60.0,362.80h5.2M598.4,362.80h-5.2M60.0,350.20h5.2M598.4,350.20h-5.2M60.0,337.60h5.2M598.4,337.60h-5.2M60.0,325.00h10.5M598.4,325.00h-10.5M60.0,312.40h5.2M598.4,312.40h-5.2M60.0,299.80h5.2M598.4,299.80h-5.2M60.0,287.20h5.2M598.4,287.20h-5.2M60.0,274.60h10.5M598.4,274.60h-10.5M60.0,262.00h5.2M598.4,262.00h-5.2M60.0,249.40h5.2M598.4,249.40h-5.2M60.0,236.80h5.2M598.4,236.80h-5.2M60.0,224.20h10.5M598.4,224.20h-10.5M60.0,211.60h5.2M598.4,211.60h-5.2M60.0,199.00h5.2M598.4,199.00h-5.2M60.20,390.3v-8M60.20,195.5v8M87.22,390.3v-4M87.22,195.5v4M114.24,390.3v-4M114.24,195.5v4M141.26,390.3v-4M141.26,195.5v4M168.28,390.3v-4M168.28,195.5v4M195.30,390.3v-8M195.30,195.5v8M222.32,390.3v-4M222.32,195.5v4M249.34,390.3v-4M249.34,195.5v4M276.36,390.3v-4M276.36,195.5v4M303.38,390.3v-4M303.38,195.5v4M330.40,390.3v-8M330.40,195.5v8M357.42,390.3v-4M357.42,195.5v4M384.44,390.3v-4M384.44,195.5v4M411.46,390.3v-4M411.46,195.5v4M438.48,390.3v-4M438.48,195.5v4M465.50,390.3v-8M465.50,195.5v8M492.52,390.3v-4M492.52,195.5v4M519.54,390.3v-4M519.54,195.5v4M546.56,390.3v-4M546.56,195.5v4M573.58,390.3v-4M573.58,195.5v4" stroke="#000" stroke-width="1.5" fill="none"/>
<clipPath id="c2"><rect x="60.0" y="390.3" width="538.4" height="194.99999999999994"/></clipPath>
<g clip-path="url(#c2)">
<line x1="60.0" y1="570.5" x2="598.4" y2="570.5" stroke="#000" stroke-width="1.5" stroke-dasharray="1.5 2.936" stroke-dashoffset="0.36"/>
<line x1="273.9" y1="390.3" x2="273.9" y2="585.3" stroke="#000" stroke-width="1.9" stroke-dasharray="6.2 6.4"/>
<line x1="438.8" y1="390.3" x2="438.8" y2="585.3" stroke="#2828b0" stroke-width="1.5" stroke-dasharray="1.5 2.91" stroke-dashoffset="0.75"/>
<path d="M60.0,417.6 L62.2,418.5 L65.5,426.8 L68.0,416.0 L70.5,421.0 L73.8,426.8 L76.3,431.8 L79.7,432.6 L84.7,427.6 L87.2,430.1 L89.7,441.0 L93.0,431.8 L98.0,432.6 L100.5,431.8 L103.0,434.3 L105.5,432.6 L108.8,436.0 L113.8,431.0 L117.2,441.8 L121.3,442.6 L124.7,450.1 L130.0,464.3 L133.8,452.6 L138.8,439.3 L142.2,451.0 L145.5,459.3 L148.8,464.3 L153.3,466.8 L157.5,451.0 L162.5,462.6 L165.8,470.5 L168.3,465.1 L172.5,475.1 L176.3,482.6 L180.0,469.3 L184.2,467.6 L187.5,481.0 L190.8,475.1 L194.2,472.6 L198.3,483.5 L203.0,469.3 L206.7,491.8 L210.8,481.8 L213.3,486.8 L217.5,481.8 L221.7,466.8 L225.8,478.5 L230.0,490.1 L234.2,486.8 L237.5,484.3 L240.8,482.1 L245.0,482.8 L248.3,486.0 L252.5,478.5 L257.5,490.5 L260.8,481.0 L263.3,481.0 L265.8,475.1 L269.2,482.6 L272.5,491.8 L276.7,480.1 L280.0,490.1 L284.2,491.9 L287.5,489.4 L290.0,496.9 L292.5,489.5 L295.0,502.8 L298.0,487.1 L301.7,497.1 L305.0,498.0 L308.3,492.2 L311.7,504.0 L314.2,498.1 L317.5,508.2 L322.5,494.9 L326.7,500.8 L330.8,505.9 L333.3,501.8 L336.7,509.0 L340.8,509.0 L344.2,504.4 L349.2,513.5 L355.0,504.4 L360.0,511.0 L365.0,514.4 L369.2,512.7 L373.3,509.8 L376.7,522.5 L381.7,514.5 L384.7,521.1 L387.5,517.5 L390.0,520.3 L393.3,510.3 L397.5,515.8 L401.7,510.8 L406.7,520.3 L411.7,527.8 L415.0,521.1 L419.7,513.6 L423.3,522.8 L426.7,519.1 L430.0,522.0 L433.3,526.1 L436.7,522.0 L438.3,525.4 L442.5,527.1 L446.7,525.4 L449.2,524.6 L452.5,531.6 L455.0,524.2 L458.3,529.6 L460.8,527.6 L465.0,530.4 L469.2,539.6 L472.5,539.6 L476.7,539.6 L479.2,535.9 L483.3,534.2 L486.7,535.4 L490.0,533.7 L493.3,532.1 L497.5,533.2 L501.3,541.2 L504.7,535.5 L507.5,537.2 L510.8,541.3 L514.7,546.0 L520.0,535.0 L522.5,539.7 L525.8,535.5 L528.3,542.7 L531.3,536.7 L534.2,544.7 L536.3,537.7 L539.3,541.0 L544.0,542.3 L547.3,548.0 L550.0,548.0 L552.7,545.3 L555.3,538.0 L558.0,539.6 L560.7,543.3 L563.0,534.3 L568.7,551.1 L572.0,548.5 L576.7,542.8 L579.3,551.4 L582.0,544.1 L584.0,545.4 L587.3,539.7 L590.4,545.8 L593.0,552.1 L593.0,555.9 L590.4,549.6 L587.3,543.5 L584.0,549.2 L582.0,547.9 L579.3,555.2 L576.7,546.6 L572.0,552.3 L568.7,554.9 L563.0,538.3 L560.7,547.3 L558.0,543.6 L555.3,542.0 L552.7,549.3 L550.0,552.0 L547.3,552.0 L544.0,546.3 L539.3,545.0 L536.3,541.7 L534.2,548.7 L531.3,540.7 L528.3,546.7 L525.8,539.5 L522.5,543.7 L520.0,539.0 L514.7,550.0 L510.8,545.3 L507.5,541.2 L504.7,539.5 L501.3,545.4 L497.5,537.4 L493.3,536.3 L490.0,537.9 L486.7,539.6 L483.3,538.4 L479.2,540.1 L476.7,543.8 L472.5,543.8 L469.2,543.8 L465.0,534.6 L460.8,531.8 L458.3,533.8 L455.0,528.4 L452.5,535.8 L449.2,528.8 L446.7,529.6 L442.5,531.3 L438.3,529.6 L436.7,526.4 L433.3,530.5 L430.0,526.4 L426.7,523.5 L423.3,527.2 L419.7,518.0 L415.0,525.5 L411.7,532.2 L406.7,524.7 L401.7,515.2 L397.5,520.2 L393.3,514.7 L390.0,524.7 L387.5,521.9 L384.7,525.5 L381.7,518.9 L376.7,526.9 L373.3,514.2 L369.2,517.3 L365.0,519.0 L360.0,515.6 L355.0,509.0 L349.2,518.1 L344.2,509.0 L340.8,513.6 L336.7,513.6 L333.3,506.6 L330.8,510.7 L326.7,505.8 L322.5,500.1 L317.5,513.4 L314.2,503.5 L311.7,509.4 L308.3,497.8 L305.0,503.6 L301.7,502.9 L298.0,492.9 L295.0,508.8 L292.5,495.5 L290.0,503.1 L287.5,495.6 L284.2,498.1 L280.0,496.5 L276.7,486.5 L272.5,498.2 L269.2,489.0 L265.8,481.5 L263.3,487.4 L260.8,487.4 L257.5,496.9 L252.5,484.9 L248.3,492.4 L245.0,489.2 L240.8,488.5 L237.5,490.7 L234.2,493.2 L230.0,496.5 L225.8,484.9 L221.7,473.2 L217.5,488.2 L213.3,493.2 L210.8,488.2 L206.7,498.2 L203.0,475.7 L198.3,489.9 L194.2,479.0 L190.8,481.5 L187.5,487.4 L184.2,474.0 L180.0,475.7 L176.3,489.0 L172.5,481.5 L168.3,471.5 L165.8,476.9 L162.5,469.0 L157.5,457.4 L153.3,473.2 L148.8,470.7 L145.5,465.7 L142.2,457.4 L138.8,445.7 L133.8,459.0 L130.0,470.7 L124.7,456.5 L121.3,449.0 L117.2,448.2 L113.8,437.4 L108.8,442.4 L105.5,439.0 L103.0,440.7 L100.5,438.2 L98.0,439.0 L93.0,438.2 L89.7,447.4 L87.2,436.5 L84.7,434.0 L79.7,439.0 L76.3,438.2 L73.8,433.2 L70.5,427.4 L68.0,422.4 L65.5,433.2 L62.2,424.9 L60.0,424.0Z" fill="#f2f2f2"/>
<path d="M60.0,417.6 L62.2,418.5 L65.5,426.8 L68.0,416.0 L70.5,421.0 L73.8,426.8 L76.3,431.8 L79.7,432.6 L84.7,427.6 L87.2,430.1 L89.7,441.0 L93.0,431.8 L98.0,432.6 L100.5,431.8 L103.0,434.3 L105.5,432.6 L108.8,436.0 L113.8,431.0 L117.2,441.8 L121.3,442.6 L124.7,450.1 L130.0,464.3 L133.8,452.6 L138.8,439.3 L142.2,451.0 L145.5,459.3 L148.8,464.3 L153.3,466.8 L157.5,451.0 L162.5,462.6 L165.8,470.5 L168.3,465.1 L172.5,475.1 L176.3,482.6 L180.0,469.3 L184.2,467.6 L187.5,481.0 L190.8,475.1 L194.2,472.6 L198.3,483.5 L203.0,469.3 L206.7,491.8 L210.8,481.8 L213.3,486.8 L217.5,481.8 L221.7,466.8 L225.8,478.5 L230.0,490.1 L234.2,486.8 L237.5,484.3 L240.8,482.1 L245.0,482.8 L248.3,486.0 L252.5,478.5 L257.5,490.5 L260.8,481.0 L263.3,481.0 L265.8,475.1 L269.2,482.6 L272.5,491.8 L276.7,480.1 L280.0,490.1 L284.2,491.9 L287.5,489.4 L290.0,496.9 L292.5,489.5 L295.0,502.8 L298.0,487.1 L301.7,497.1 L305.0,498.0 L308.3,492.2 L311.7,504.0 L314.2,498.1 L317.5,508.2 L322.5,494.9 L326.7,500.8 L330.8,505.9 L333.3,501.8 L336.7,509.0 L340.8,509.0 L344.2,504.4 L349.2,513.5 L355.0,504.4 L360.0,511.0 L365.0,514.4 L369.2,512.7 L373.3,509.8 L376.7,522.5 L381.7,514.5 L384.7,521.1 L387.5,517.5 L390.0,520.3 L393.3,510.3 L397.5,515.8 L401.7,510.8 L406.7,520.3 L411.7,527.8 L415.0,521.1 L419.7,513.6 L423.3,522.8 L426.7,519.1 L430.0,522.0 L433.3,526.1 L436.7,522.0 L438.3,525.4 L442.5,527.1 L446.7,525.4 L449.2,524.6 L452.5,531.6 L455.0,524.2 L458.3,529.6 L460.8,527.6 L465.0,530.4 L469.2,539.6 L472.5,539.6 L476.7,539.6 L479.2,535.9 L483.3,534.2 L486.7,535.4 L490.0,533.7 L493.3,532.1 L497.5,533.2 L501.3,541.2 L504.7,535.5 L507.5,537.2 L510.8,541.3 L514.7,546.0 L520.0,535.0 L522.5,539.7 L525.8,535.5 L528.3,542.7 L531.3,536.7 L534.2,544.7 L536.3,537.7 L539.3,541.0 L544.0,542.3 L547.3,548.0 L550.0,548.0 L552.7,545.3 L555.3,538.0 L558.0,539.6 L560.7,543.3 L563.0,534.3 L568.7,551.1 L572.0,548.5 L576.7,542.8 L579.3,551.4 L582.0,544.1 L584.0,545.4 L587.3,539.7 L590.4,545.8 L593.0,552.1" fill="none" stroke="#606060" stroke-width="1.0" stroke-linejoin="round"/>
<path d="M60.0,424.0 L62.2,424.9 L65.5,433.2 L68.0,422.4 L70.5,427.4 L73.8,433.2 L76.3,438.2 L79.7,439.0 L84.7,434.0 L87.2,436.5 L89.7,447.4 L93.0,438.2 L98.0,439.0 L100.5,438.2 L103.0,440.7 L105.5,439.0 L108.8,442.4 L113.8,437.4 L117.2,448.2 L121.3,449.0 L124.7,456.5 L130.0,470.7 L133.8,459.0 L138.8,445.7 L142.2,457.4 L145.5,465.7 L148.8,470.7 L153.3,473.2 L157.5,457.4 L162.5,469.0 L165.8,476.9 L168.3,471.5 L172.5,481.5 L176.3,489.0 L180.0,475.7 L184.2,474.0 L187.5,487.4 L190.8,481.5 L194.2,479.0 L198.3,489.9 L203.0,475.7 L206.7,498.2 L210.8,488.2 L213.3,493.2 L217.5,488.2 L221.7,473.2 L225.8,484.9 L230.0,496.5 L234.2,493.2 L237.5,490.7 L240.8,488.5 L245.0,489.2 L248.3,492.4 L252.5,484.9 L257.5,496.9 L260.8,487.4 L263.3,487.4 L265.8,481.5 L269.2,489.0 L272.5,498.2 L276.7,486.5 L280.0,496.5 L284.2,498.1 L287.5,495.6 L290.0,503.1 L292.5,495.5 L295.0,508.8 L298.0,492.9 L301.7,502.9 L305.0,503.6 L308.3,497.8 L311.7,509.4 L314.2,503.5 L317.5,513.4 L322.5,500.1 L326.7,505.8 L330.8,510.7 L333.3,506.6 L336.7,513.6 L340.8,513.6 L344.2,509.0 L349.2,518.1 L355.0,509.0 L360.0,515.6 L365.0,519.0 L369.2,517.3 L373.3,514.2 L376.7,526.9 L381.7,518.9 L384.7,525.5 L387.5,521.9 L390.0,524.7 L393.3,514.7 L397.5,520.2 L401.7,515.2 L406.7,524.7 L411.7,532.2 L415.0,525.5 L419.7,518.0 L423.3,527.2 L426.7,523.5 L430.0,526.4 L433.3,530.5 L436.7,526.4 L438.3,529.6 L442.5,531.3 L446.7,529.6 L449.2,528.8 L452.5,535.8 L455.0,528.4 L458.3,533.8 L460.8,531.8 L465.0,534.6 L469.2,543.8 L472.5,543.8 L476.7,543.8 L479.2,540.1 L483.3,538.4 L486.7,539.6 L490.0,537.9 L493.3,536.3 L497.5,537.4 L501.3,545.4 L504.7,539.5 L507.5,541.2 L510.8,545.3 L514.7,550.0 L520.0,539.0 L522.5,543.7 L525.8,539.5 L528.3,546.7 L531.3,540.7 L534.2,548.7 L536.3,541.7 L539.3,545.0 L544.0,546.3 L547.3,552.0 L550.0,552.0 L552.7,549.3 L555.3,542.0 L558.0,543.6 L560.7,547.3 L563.0,538.3 L568.7,554.9 L572.0,552.3 L576.7,546.6 L579.3,555.2 L582.0,547.9 L584.0,549.2 L587.3,543.5 L590.4,549.6 L593.0,555.9" fill="none" stroke="#606060" stroke-width="1.0" stroke-linejoin="round"/>
<path d="M60.0,420.8 L62.2,421.7 L65.5,430.0 L68.0,419.2 L70.5,424.2 L73.8,430.0 L76.3,435.0 L79.7,435.8 L84.7,430.8 L87.2,433.3 L89.7,444.2 L93.0,435.0 L98.0,435.8 L100.5,435.0 L103.0,437.5 L105.5,435.8 L108.8,439.2 L113.8,434.2 L117.2,445.0 L121.3,445.8 L124.7,453.3 L130.0,467.5 L133.8,455.8 L138.8,442.5 L142.2,454.2 L145.5,462.5 L148.8,467.5 L153.3,470.0 L157.5,454.2 L162.5,465.8 L165.8,473.7 L168.3,468.3 L172.5,478.3 L176.3,485.8 L180.0,472.5 L184.2,470.8 L187.5,484.2 L190.8,478.3 L194.2,475.8 L198.3,486.7 L203.0,472.5 L206.7,495.0 L210.8,485.0 L213.3,490.0 L217.5,485.0 L221.7,470.0 L225.8,481.7 L230.0,493.3 L234.2,490.0 L237.5,487.5 L240.8,485.3 L245.0,486.0 L248.3,489.2 L252.5,481.7 L257.5,493.7 L260.8,484.2 L263.3,484.2 L265.8,478.3 L269.2,485.8 L272.5,495.0 L276.7,483.3 L280.0,493.3 L284.2,495.0 L287.5,492.5 L290.0,500.0 L292.5,492.5 L295.0,505.8 L298.0,490.0 L301.7,500.0 L305.0,500.8 L308.3,495.0 L311.7,506.7 L314.2,500.8 L317.5,510.8 L322.5,497.5 L326.7,503.3 L330.8,508.3 L333.3,504.2 L336.7,511.3 L340.8,511.3 L344.2,506.7 L349.2,515.8 L355.0,506.7 L360.0,513.3 L365.0,516.7 L369.2,515.0 L373.3,512.0 L376.7,524.7 L381.7,516.7 L384.7,523.3 L387.5,519.7 L390.0,522.5 L393.3,512.5 L397.5,518.0 L401.7,513.0 L406.7,522.5 L411.7,530.0 L415.0,523.3 L419.7,515.8 L423.3,525.0 L426.7,521.3 L430.0,524.2 L433.3,528.3 L436.7,524.2 L438.3,527.5 L442.5,529.2 L446.7,527.5 L449.2,526.7 L452.5,533.7 L455.0,526.3 L458.3,531.7 L460.8,529.7 L465.0,532.5 L469.2,541.7 L472.5,541.7 L476.7,541.7 L479.2,538.0 L483.3,536.3 L486.7,537.5 L490.0,535.8 L493.3,534.2 L497.5,535.3 L501.3,543.3 L504.7,537.5 L507.5,539.2 L510.8,543.3 L514.7,548.0 L520.0,537.0 L522.5,541.7 L525.8,537.5 L528.3,544.7 L531.3,538.7 L534.2,546.7 L536.3,539.7 L539.3,543.0 L544.0,544.3 L547.3,550.0 L550.0,550.0 L552.7,547.3 L555.3,540.0 L558.0,541.6 L560.7,545.3 L563.0,536.3 L568.7,553.0 L572.0,550.4 L576.7,544.7 L579.3,553.3 L582.0,546.0 L584.0,547.3 L587.3,541.6 L590.4,547.7 L593.0,554.0" fill="none" stroke="#000" stroke-width="1.5" stroke-linejoin="round"/>
<path d="M60.2,420.3 L62.2,421.5 L64.2,422.7 L66.2,423.8 L68.2,425.0 L70.2,426.1 L72.2,427.2 L74.2,428.3 L76.2,429.4 L78.2,430.5 L80.2,431.6 L82.2,432.7 L84.2,433.7 L86.2,434.7 L88.2,435.8 L90.2,436.8 L92.2,437.8 L94.2,438.8 L96.2,439.8 L98.2,440.7 L100.2,441.7 L102.2,442.7 L104.2,443.6 L106.2,444.5 L108.2,445.5 L110.2,446.4 L112.2,447.3 L114.2,448.2 L116.2,449.1 L118.2,450.0 L120.2,450.8 L122.2,451.7 L124.2,452.6 L126.2,453.4 L128.2,454.2 L130.2,455.1 L132.2,455.9 L134.2,456.7 L136.2,457.5 L138.2,458.3 L140.2,459.1 L142.2,459.9 L144.2,460.7 L146.2,461.4 L148.2,462.2 L150.2,463.0 L152.2,463.7 L154.2,464.4 L156.2,465.2 L158.2,465.9 L160.2,466.6 L162.2,467.3 L164.2,468.0 L166.2,468.7 L168.2,469.4 L170.2,470.1 L172.2,470.8 L174.2,471.5 L176.2,472.1 L178.2,472.8 L180.2,473.4 L182.2,474.1 L184.2,474.7 L186.2,475.4 L188.2,476.0 L190.2,476.6 L192.2,477.2 L194.2,477.9 L196.2,478.5 L198.2,479.1 L200.2,479.7 L202.2,480.3 L204.2,480.8 L206.2,481.4 L208.2,482.0 L210.2,482.6 L212.2,483.1 L214.2,483.7 L216.2,484.2 L218.2,484.8 L220.2,485.3 L222.2,485.9 L224.2,486.4 L226.2,486.9 L228.2,487.5 L230.2,488.0 L232.2,488.4 L234.2,488.9 L236.2,489.3 L238.2,489.7 L240.2,490.1 L242.2,490.4 L244.2,490.6 L246.2,490.8 L248.2,490.8 L250.2,490.7 L252.2,490.5 L254.2,490.3 L256.2,489.9 L258.2,489.4 L260.2,488.9 L262.2,488.3 L264.2,487.8 L266.2,487.4 L268.2,487.1 L270.2,487.0 L272.2,487.1 L274.2,487.4 L276.2,488.0 L278.2,488.8 L280.2,489.8 L282.2,490.9 L284.2,492.2 L286.2,493.6 L288.2,495.0 L290.2,496.4 L292.2,497.7 L294.2,499.0 L296.2,500.1 L298.2,501.2 L300.2,502.1 L302.2,502.9 L304.2,503.7 L306.2,504.3 L308.2,504.9 L310.2,505.4 L312.2,505.9 L314.2,506.3 L316.2,506.7 L318.2,507.1 L320.2,507.5 L322.2,507.9 L324.2,508.2 L326.2,508.6 L328.2,508.9 L330.2,509.3 L332.2,509.6 L334.2,510.0 L336.2,510.3 L338.2,510.6 L340.2,511.0 L342.2,511.3 L344.2,511.6 L346.2,512.0 L348.2,512.3 L350.2,512.6 L352.2,512.9 L354.2,513.2 L356.2,513.6 L358.2,513.9 L360.2,514.2 L362.2,514.5 L364.2,514.8 L366.2,515.1 L368.2,515.4 L370.2,515.7 L372.2,516.0 L374.2,516.3 L376.2,516.6 L378.2,516.9 L380.2,517.1 L382.2,517.4 L384.2,517.7 L386.2,518.0 L388.2,518.3 L390.2,518.6 L392.2,518.8 L394.2,519.1 L396.2,519.4 L398.2,519.6 L400.2,519.9 L402.2,520.2 L404.2,520.4 L406.2,520.7 L408.2,521.0 L410.2,521.2 L412.2,521.5 L414.2,521.7 L416.2,522.0 L418.2,522.2 L420.2,522.5 L422.2,522.7 L424.2,523.0 L426.2,523.2 L428.2,523.4 L430.2,523.7 L432.2,523.9 L434.2,524.2 L436.2,524.4 L438.2,524.6 L440.2,524.9 L442.2,525.1 L444.2,525.3 L446.2,525.5 L448.2,525.8 L450.2,526.0 L452.2,526.2 L454.2,526.4 L456.2,526.7 L458.2,526.9 L460.2,527.1 L462.2,527.3 L464.2,527.5 L466.2,527.7 L468.2,527.9 L470.2,528.1 L472.2,528.4 L474.2,528.6 L476.2,528.8 L478.2,529.0 L480.2,529.2 L482.2,529.4 L484.2,529.6 L486.2,529.8 L488.2,530.0 L490.2,530.2 L492.2,530.4 L494.2,530.5 L496.2,530.7 L498.2,530.9 L500.2,531.1 L502.2,531.3 L504.2,531.5 L506.2,531.7 L508.2,531.9 L510.2,532.0 L512.2,532.2 L514.2,532.4 L516.2,532.6 L518.2,532.8 L520.2,532.9 L522.2,533.1 L524.2,533.3 L526.2,533.5 L528.2,533.6 L530.2,533.8 L532.2,534.0 L534.2,534.2 L536.2,534.3 L538.2,534.5 L540.2,534.7 L542.2,534.8 L544.2,535.0 L546.2,535.1 L548.2,535.3 L550.2,535.5 L552.2,535.6 L554.2,535.8 L556.2,535.9 L558.2,536.1 L560.2,536.3 L562.2,536.4 L564.2,536.6 L566.2,536.7 L568.2,536.9 L570.2,537.0 L572.2,537.2 L574.2,537.3 L576.2,537.5 L578.2,537.6 L580.2,537.8 L582.2,537.9 L584.2,538.1 L586.2,538.2 L588.2,538.3 L590.2,538.5 L592.2,538.6" fill="none" stroke="#d42022" stroke-width="1.7"/>
</g>
<rect x="60.0" y="390.3" width="538.4" height="194.99999999999994" fill="none" stroke="#000" stroke-width="1.7"/>
<path d="M60.0,582.77h5.2M598.4,582.77h-5.2M60.0,570.50h10.5M598.4,570.50h-10.5M60.0,558.23h5.2M598.4,558.23h-5.2M60.0,545.95h5.2M598.4,545.95h-5.2M60.0,533.67h5.2M598.4,533.67h-5.2M60.0,521.40h10.5M598.4,521.40h-10.5M60.0,509.12h5.2M598.4,509.12h-5.2M60.0,496.85h5.2M598.4,496.85h-5.2M60.0,484.57h5.2M598.4,484.57h-5.2M60.0,472.30h10.5M598.4,472.30h-10.5M60.0,460.02h5.2M598.4,460.02h-5.2M60.0,447.75h5.2M598.4,447.75h-5.2M60.0,435.48h5.2M598.4,435.48h-5.2M60.0,423.20h10.5M598.4,423.20h-10.5M60.0,410.92h5.2M598.4,410.92h-5.2M60.0,398.65h5.2M598.4,398.65h-5.2M60.20,585.3v-8M60.20,390.3v8M87.22,585.3v-4M87.22,390.3v4M114.24,585.3v-4M114.24,390.3v4M141.26,585.3v-4M141.26,390.3v4M168.28,585.3v-4M168.28,390.3v4M195.30,585.3v-8M195.30,390.3v8M222.32,585.3v-4M222.32,390.3v4M249.34,585.3v-4M249.34,390.3v4M276.36,585.3v-4M276.36,390.3v4M303.38,585.3v-4M303.38,390.3v4M330.40,585.3v-8M330.40,390.3v8M357.42,585.3v-4M357.42,390.3v4M384.44,585.3v-4M384.44,390.3v4M411.46,585.3v-4M411.46,390.3v4M438.48,585.3v-4M438.48,390.3v4M465.50,585.3v-8M465.50,390.3v8M492.52,585.3v-4M492.52,390.3v4M519.54,585.3v-4M519.54,390.3v4M546.56,585.3v-4M546.56,390.3v4M573.58,585.3v-4M573.58,390.3v4" stroke="#000" stroke-width="1.5" fill="none"/>
<g opacity="0.999">
<text transform="matrix(0.5316,0.0000,0.0000,0.4786,41.737,188.500)" font-size="40">0</text>
<text transform="matrix(0.5195,0.0000,0.0000,0.4786,30.561,143.600)" font-size="40">20</text>
<text transform="matrix(0.5190,0.0000,0.0000,0.4786,30.581,98.700)" font-size="40">40</text>
<text transform="matrix(0.5146,0.0000,0.0000,0.4786,30.771,53.800)" font-size="40">60</text>
<text transform="matrix(0.5293,0.0000,0.0000,0.4786,29.941,13.700)" font-size="40">80</text>
<text transform="matrix(0.5316,0.0000,0.0000,0.4786,41.737,383.200)" font-size="40">0</text>
<text transform="matrix(0.5195,0.0000,0.0000,0.4786,30.561,332.800)" font-size="40">20</text>
<text transform="matrix(0.5190,0.0000,0.0000,0.4786,30.581,282.400)" font-size="40">40</text>
<text transform="matrix(0.5146,0.0000,0.0000,0.4786,30.771,232.000)" font-size="40">60</text>
<text transform="matrix(0.5316,0.0000,0.0000,0.4786,41.737,578.300)" font-size="40">0</text>
<text transform="matrix(0.5195,0.0000,0.0000,0.4786,30.561,529.200)" font-size="40">20</text>
<text transform="matrix(0.5190,0.0000,0.0000,0.4786,30.581,480.100)" font-size="40">40</text>
<text transform="matrix(0.5146,0.0000,0.0000,0.4786,30.771,431.000)" font-size="40">60</text>
<text transform="matrix(0.5288,0.0000,0.0000,0.4750,44.742,612.700)" font-size="40">2.5</text>
<text transform="matrix(0.5115,0.0000,0.0000,0.4750,180.377,612.700)" font-size="40">3.0</text>
<text transform="matrix(0.5212,0.0000,0.0000,0.4750,315.558,612.700)" font-size="40">3.5</text>
<text transform="matrix(0.5274,0.0000,0.0000,0.4750,450.723,612.700)" font-size="40">4.0</text>
<text transform="matrix(0.4545,0.0000,0.0000,0.5263,87.091,30.689)" font-size="40">(</text>
<text transform="matrix(0.5600,0.0000,0.0000,0.5263,106.640,30.689)" font-size="40">)</text>
<text transform="matrix(0.4778,0.0000,0.0000,0.4750,94.744,31.000)" font-size="40">ɑ</text>
<text transform="matrix(0.4545,0.0000,0.0000,0.5263,87.091,225.489)" font-size="40">(</text>
<text transform="matrix(0.5600,0.0000,0.0000,0.5263,106.640,225.489)" font-size="40">)</text>
<text transform="matrix(0.4556,0.0000,0.0000,0.4750,94.933,225.400)" font-size="40">b</text>
<text transform="matrix(0.4545,0.0000,0.0000,0.5263,87.091,420.489)" font-size="40">(</text>
<text transform="matrix(0.5400,0.0000,0.0000,0.5263,106.360,420.489)" font-size="40">)</text>
<text transform="matrix(0.4882,0.0000,0.0000,0.4750,94.724,420.900)" font-size="40">c</text>
<text transform="matrix(0.4239,0.0000,0.0000,0.4750,123.902,30.000)" font-size="40">S</text>
<text transform="matrix(0.4125,0.0000,0.0000,0.4750,136.012,30.000)" font-size="40">F</text>
<text transform="matrix(0.4174,0.0000,0.0000,0.4750,123.965,225.300)" font-size="40">S</text>
<text transform="matrix(0.4579,0.0000,0.0000,0.4750,135.584,225.300)" font-size="40">e</text>
<text transform="matrix(0.4200,0.0000,0.0000,0.4750,146.400,225.300)" font-size="40">y</text>
<text transform="matrix(0.4500,0.0000,0.0000,0.4750,156.650,225.300)" font-size="40">f</text>
<text transform="matrix(0.4105,0.0000,0.0000,0.4750,163.179,225.300)" font-size="40">e</text>
<text transform="matrix(0.4200,0.0000,0.0000,0.4750,173.540,225.300)" font-size="40">r</text>
<text transform="matrix(0.3900,0.0000,0.0000,0.4750,182.810,225.300)" font-size="40">t</text>
<text transform="matrix(0.4111,0.0000,0.0000,0.4750,123.467,420.200)" font-size="40">L</text>
<text transform="matrix(0.4750,0.0000,0.0000,0.4750,133.000,420.200)" font-size="40">I</text>
<text transform="matrix(0.4043,0.0000,0.0000,0.4750,138.387,420.200)" font-size="40">N</text>
<text transform="matrix(0.3409,0.0000,0.0000,0.4750,152.077,420.200)" font-size="40">E</text>
<text transform="matrix(0.3500,0.0000,0.0000,0.4750,163.750,420.200)" font-size="40">R</text>
<text transform="matrix(0.3227,0.0000,0.0000,0.4571,425.932,30.200)" font-size="40" stroke="#000" stroke-width="0.35" vector-effect="non-scaling-stroke">E</text>
<text transform="matrix(0.3316,0.0000,0.0000,0.4571,436.700,30.200)" font-size="40" stroke="#000" stroke-width="0.35" vector-effect="non-scaling-stroke">W</text>
<text transform="matrix(0.5650,0.0000,0.0000,0.4571,451.570,30.200)" font-size="40">=</text>
<text transform="matrix(0.5135,0.0000,0.0000,0.4571,466.973,30.200)" font-size="40">25.2</text>
<text transform="matrix(0.4650,0.0000,0.0000,0.4571,510.535,30.200)" font-size="40">±</text>
<text transform="matrix(0.4765,0.0000,0.0000,0.4571,524.071,30.200)" font-size="40">1.2</text>
<text transform="matrix(0.5200,0.0000,0.0000,0.4571,551.440,30.200)" font-size="40">nm</text>
<text transform="matrix(0.4682,0.0000,0.0000,0.5154,426.532,53.900)" font-size="40" style="font-family:'Liberation Serif',serif;font-style:normal;font-weight:bold">Γ</text>
<text transform="matrix(0.5450,0.0000,0.0000,0.4571,437.310,53.800)" font-size="40">=</text>
<text transform="matrix(0.5350,0.0000,0.0000,0.4571,452.930,53.800)" font-size="40">−</text>
<text transform="matrix(0.5203,0.0000,0.0000,0.4571,467.459,53.800)" font-size="40">2.68</text>
<text transform="matrix(0.4500,0.0000,0.0000,0.4571,511.050,53.800)" font-size="40">±</text>
<text transform="matrix(0.5176,0.0000,0.0000,0.4571,522.965,53.800)" font-size="40">0.02</text>
<text transform="matrix(0.3227,0.0000,0.0000,0.4571,425.932,225.200)" font-size="40" stroke="#000" stroke-width="0.35" vector-effect="non-scaling-stroke">E</text>
<text transform="matrix(0.3316,0.0000,0.0000,0.4571,436.700,225.200)" font-size="40" stroke="#000" stroke-width="0.35" vector-effect="non-scaling-stroke">W</text>
<text transform="matrix(0.5650,0.0000,0.0000,0.4571,451.570,225.200)" font-size="40">=</text>
<text transform="matrix(0.5135,0.0000,0.0000,0.4571,466.973,225.200)" font-size="40">17.2</text>
<text transform="matrix(0.4650,0.0000,0.0000,0.4571,510.535,225.200)" font-size="40">±</text>
<text transform="matrix(0.4765,0.0000,0.0000,0.4571,524.071,225.200)" font-size="40">0.8</text>
<text transform="matrix(0.5200,0.0000,0.0000,0.4571,551.440,225.200)" font-size="40">nm</text>
<text transform="matrix(0.4682,0.0000,0.0000,0.5154,426.532,248.900)" font-size="40" style="font-family:'Liberation Serif',serif;font-style:normal;font-weight:bold">Γ</text>
<text transform="matrix(0.5450,0.0000,0.0000,0.4571,437.310,248.800)" font-size="40">=</text>
<text transform="matrix(0.5350,0.0000,0.0000,0.4571,452.930,248.800)" font-size="40">−</text>
<text transform="matrix(0.5203,0.0000,0.0000,0.4571,467.459,248.800)" font-size="40">2.31</text>
<text transform="matrix(0.4500,0.0000,0.0000,0.4571,511.050,248.800)" font-size="40">±</text>
<text transform="matrix(0.5176,0.0000,0.0000,0.4571,522.965,248.800)" font-size="40">0.01</text>
<text transform="matrix(0.3227,0.0000,0.0000,0.4571,425.932,420.000)" font-size="40" stroke="#000" stroke-width="0.35" vector-effect="non-scaling-stroke">E</text>
<text transform="matrix(0.3316,0.0000,0.0000,0.4571,436.700,420.000)" font-size="40" stroke="#000" stroke-width="0.35" vector-effect="non-scaling-stroke">W</text>
<text transform="matrix(0.5650,0.0000,0.0000,0.4571,451.570,420.000)" font-size="40">=</text>
<text transform="matrix(0.5135,0.0000,0.0000,0.4571,466.973,420.000)" font-size="40">13.4</text>
<text transform="matrix(0.4650,0.0000,0.0000,0.4571,510.535,420.000)" font-size="40">±</text>
<text transform="matrix(0.4765,0.0000,0.0000,0.4571,524.071,420.000)" font-size="40">1.4</text>
<text transform="matrix(0.5200,0.0000,0.0000,0.4571,551.440,420.000)" font-size="40">nm</text>
<text transform="matrix(0.4682,0.0000,0.0000,0.5154,426.532,443.700)" font-size="40" style="font-family:'Liberation Serif',serif;font-style:normal;font-weight:bold">Γ</text>
<text transform="matrix(0.5450,0.0000,0.0000,0.4571,437.310,443.600)" font-size="40">=</text>
<text transform="matrix(0.5350,0.0000,0.0000,0.4571,452.930,443.600)" font-size="40">−</text>
<text transform="matrix(0.5203,0.0000,0.0000,0.4571,467.459,443.600)" font-size="40">2.69</text>
<text transform="matrix(0.4500,0.0000,0.0000,0.4571,511.050,443.600)" font-size="40">±</text>
<text transform="matrix(0.5176,0.0000,0.0000,0.4571,522.965,443.600)" font-size="40">0.02</text>
<text transform="matrix(0.5300,0.0000,0.0000,0.4500,288.700,635.300)" font-size="40">λ</text>
<text transform="matrix(0.2957,0.0000,0.0000,0.3556,299.413,642.600)" font-size="40" style="font-family:'Liberation Sans',sans-serif;font-style:normal;font-weight:bold">rest</text>
<text transform="matrix(0.6250,0.0000,0.0000,0.5237,330.425,636.011)" font-size="40">[</text>
<text transform="matrix(0.6632,0.0000,0.0000,0.4643,340.100,635.621)" font-size="40" style="font-family:'Liberation Serif',serif;font-style:italic;font-weight:normal">μ</text>
<text transform="matrix(0.5250,0.0000,0.0000,0.3955,352.425,635.500)" font-size="40">m</text>
<text transform="matrix(0.5500,0.0000,0.0000,0.5237,373.000,636.011)" font-size="40">]</text>
<text transform="matrix(0.0000,-0.5025,0.4333,0.0000,14.000,367.808)" font-size="40">Normalized</text>
<text transform="matrix(0.0000,-0.4639,0.4267,0.0000,14.000,255.792)" font-size="40">Flux</text>
</g>
</svg></body></html>
